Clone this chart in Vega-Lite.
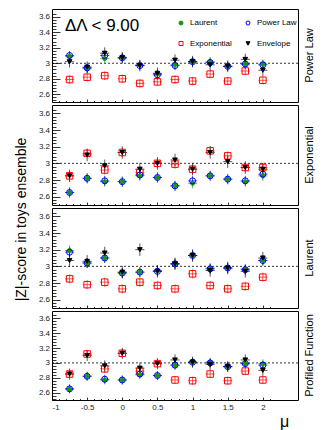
{
"$schema": "https://vega.github.io/schema/vega-lite/v6.json",
"padding": {"left": 13, "top": 8, "right": 0, "bottom": 0},
"spacing": 3,
"bounds": "flush",
"config": {
  "font": "Liberation Sans",
  "view": {"stroke": "#000", "strokeWidth": 1},
  "axis": {"grid": false, "domain": false, "labelFont": "Liberation Sans", "labelFontSize": 8, "labelColor": "#222", "tickColor": "#000", "tickWidth": 0.8, "titleFont": "Liberation Sans", "titleFontWeight": "normal", "titleColor": "#000"},
  "title": {"font": "Liberation Sans", "fontWeight": "normal", "fontSize": 11, "color": "#000"},
  "legend": {"orient": "none", "legendX": 125, "legendY": 10, "direction": "horizontal", "columns": 2, "title": null, "labelFontSize": 8, "labelFont": "Liberation Sans", "labelColor": "#000", "symbolSize": 16, "symbolStrokeWidth": 1, "labelOffset": 5, "columnPadding": 12, "rowPadding": 12.5, "padding": 0}
},
"data": {"values": [
{"panel":"Power Law","series":"Exponential","mu":-0.75,"z":2.79,"ye":0.055,"xe":0.065},
{"panel":"Power Law","series":"Exponential","mu":-0.5,"z":2.82,"ye":0.055,"xe":0.065},
{"panel":"Power Law","series":"Exponential","mu":-0.25,"z":2.84,"ye":0.055,"xe":0.065},
{"panel":"Power Law","series":"Exponential","mu":0,"z":2.80,"ye":0.055,"xe":0.065},
{"panel":"Power Law","series":"Exponential","mu":0.25,"z":2.74,"ye":0.055,"xe":0.065},
{"panel":"Power Law","series":"Exponential","mu":0.5,"z":2.76,"ye":0.055,"xe":0.065},
{"panel":"Power Law","series":"Exponential","mu":0.75,"z":2.79,"ye":0.055,"xe":0.065},
{"panel":"Power Law","series":"Exponential","mu":1,"z":2.77,"ye":0.055,"xe":0.065},
{"panel":"Power Law","series":"Exponential","mu":1.25,"z":2.86,"ye":0.055,"xe":0.065},
{"panel":"Power Law","series":"Exponential","mu":1.5,"z":2.77,"ye":0.055,"xe":0.065},
{"panel":"Power Law","series":"Exponential","mu":1.75,"z":2.90,"ye":0.055,"xe":0.065},
{"panel":"Power Law","series":"Exponential","mu":2,"z":2.78,"ye":0.055,"xe":0.065},
{"panel":"Power Law","series":"Laurent","mu":-0.75,"z":3.09,"ye":0.06,"xe":0.065},
{"panel":"Power Law","series":"Laurent","mu":-0.5,"z":2.93,"ye":0.06,"xe":0.065},
{"panel":"Power Law","series":"Laurent","mu":-0.25,"z":3.06,"ye":0.06,"xe":0.065},
{"panel":"Power Law","series":"Laurent","mu":0,"z":3.07,"ye":0.06,"xe":0.065},
{"panel":"Power Law","series":"Laurent","mu":0.25,"z":2.98,"ye":0.06,"xe":0.065},
{"panel":"Power Law","series":"Laurent","mu":0.5,"z":2.86,"ye":0.06,"xe":0.065},
{"panel":"Power Law","series":"Laurent","mu":0.75,"z":2.98,"ye":0.06,"xe":0.065},
{"panel":"Power Law","series":"Laurent","mu":1,"z":3.02,"ye":0.06,"xe":0.065},
{"panel":"Power Law","series":"Laurent","mu":1.25,"z":3.02,"ye":0.06,"xe":0.065},
{"panel":"Power Law","series":"Laurent","mu":1.5,"z":2.96,"ye":0.06,"xe":0.065},
{"panel":"Power Law","series":"Laurent","mu":1.75,"z":2.99,"ye":0.06,"xe":0.065},
{"panel":"Power Law","series":"Laurent","mu":2,"z":2.99,"ye":0.06,"xe":0.065},
{"panel":"Power Law","series":"Power Law","mu":-0.75,"z":3.10,"ye":0.06,"xe":0.065},
{"panel":"Power Law","series":"Power Law","mu":-0.5,"z":2.94,"ye":0.06,"xe":0.065},
{"panel":"Power Law","series":"Power Law","mu":-0.25,"z":3.10,"ye":0.06,"xe":0.065},
{"panel":"Power Law","series":"Power Law","mu":0,"z":3.07,"ye":0.06,"xe":0.065},
{"panel":"Power Law","series":"Power Law","mu":0.25,"z":2.97,"ye":0.06,"xe":0.065},
{"panel":"Power Law","series":"Power Law","mu":0.5,"z":2.85,"ye":0.06,"xe":0.065},
{"panel":"Power Law","series":"Power Law","mu":0.75,"z":2.97,"ye":0.06,"xe":0.065},
{"panel":"Power Law","series":"Power Law","mu":1,"z":3.02,"ye":0.06,"xe":0.065},
{"panel":"Power Law","series":"Power Law","mu":1.25,"z":3.01,"ye":0.06,"xe":0.065},
{"panel":"Power Law","series":"Power Law","mu":1.5,"z":2.96,"ye":0.06,"xe":0.065},
{"panel":"Power Law","series":"Power Law","mu":1.75,"z":2.99,"ye":0.06,"xe":0.065},
{"panel":"Power Law","series":"Power Law","mu":2,"z":2.98,"ye":0.06,"xe":0.065},
{"panel":"Power Law","series":"Envelope","mu":-0.75,"z":3.02,"ye":0.075,"xe":0.065},
{"panel":"Power Law","series":"Envelope","mu":-0.5,"z":2.95,"ye":0.075,"xe":0.065},
{"panel":"Power Law","series":"Envelope","mu":-0.25,"z":3.13,"ye":0.075,"xe":0.065},
{"panel":"Power Law","series":"Envelope","mu":0,"z":3.07,"ye":0.075,"xe":0.065},
{"panel":"Power Law","series":"Envelope","mu":0.25,"z":2.97,"ye":0.075,"xe":0.065},
{"panel":"Power Law","series":"Envelope","mu":0.5,"z":2.87,"ye":0.075,"xe":0.065},
{"panel":"Power Law","series":"Envelope","mu":0.75,"z":3.04,"ye":0.075,"xe":0.065},
{"panel":"Power Law","series":"Envelope","mu":1,"z":3.02,"ye":0.075,"xe":0.065},
{"panel":"Power Law","series":"Envelope","mu":1.25,"z":2.98,"ye":0.075,"xe":0.065},
{"panel":"Power Law","series":"Envelope","mu":1.5,"z":2.96,"ye":0.075,"xe":0.065},
{"panel":"Power Law","series":"Envelope","mu":1.75,"z":3.05,"ye":0.075,"xe":0.065},
{"panel":"Power Law","series":"Envelope","mu":2,"z":2.91,"ye":0.075,"xe":0.065},

{"panel":"Exponential","series":"Exponential","mu":-0.75,"z":2.85,"ye":0.055,"xe":0.065},
{"panel":"Exponential","series":"Exponential","mu":-0.5,"z":3.12,"ye":0.055,"xe":0.065},
{"panel":"Exponential","series":"Exponential","mu":-0.25,"z":2.92,"ye":0.055,"xe":0.065},
{"panel":"Exponential","series":"Exponential","mu":0,"z":3.13,"ye":0.055,"xe":0.065},
{"panel":"Exponential","series":"Exponential","mu":0.25,"z":2.89,"ye":0.055,"xe":0.065},
{"panel":"Exponential","series":"Exponential","mu":0.5,"z":3.00,"ye":0.055,"xe":0.065},
{"panel":"Exponential","series":"Exponential","mu":0.75,"z":2.99,"ye":0.055,"xe":0.065},
{"panel":"Exponential","series":"Exponential","mu":1,"z":2.93,"ye":0.055,"xe":0.065},
{"panel":"Exponential","series":"Exponential","mu":1.25,"z":3.15,"ye":0.055,"xe":0.065},
{"panel":"Exponential","series":"Exponential","mu":1.5,"z":3.09,"ye":0.055,"xe":0.065},
{"panel":"Exponential","series":"Exponential","mu":1.75,"z":2.95,"ye":0.055,"xe":0.065},
{"panel":"Exponential","series":"Exponential","mu":2,"z":2.95,"ye":0.055,"xe":0.065},
{"panel":"Exponential","series":"Laurent","mu":-0.75,"z":2.65,"ye":0.06,"xe":0.065},
{"panel":"Exponential","series":"Laurent","mu":-0.5,"z":2.82,"ye":0.06,"xe":0.065},
{"panel":"Exponential","series":"Laurent","mu":-0.25,"z":2.78,"ye":0.06,"xe":0.065},
{"panel":"Exponential","series":"Laurent","mu":0,"z":2.78,"ye":0.06,"xe":0.065},
{"panel":"Exponential","series":"Laurent","mu":0.25,"z":2.85,"ye":0.06,"xe":0.065},
{"panel":"Exponential","series":"Laurent","mu":0.5,"z":2.83,"ye":0.06,"xe":0.065},
{"panel":"Exponential","series":"Laurent","mu":0.75,"z":2.73,"ye":0.06,"xe":0.065},
{"panel":"Exponential","series":"Laurent","mu":1,"z":2.76,"ye":0.06,"xe":0.065},
{"panel":"Exponential","series":"Laurent","mu":1.25,"z":2.85,"ye":0.06,"xe":0.065},
{"panel":"Exponential","series":"Laurent","mu":1.5,"z":2.81,"ye":0.06,"xe":0.065},
{"panel":"Exponential","series":"Laurent","mu":1.75,"z":2.78,"ye":0.06,"xe":0.065},
{"panel":"Exponential","series":"Laurent","mu":2,"z":2.85,"ye":0.06,"xe":0.065},
{"panel":"Exponential","series":"Power Law","mu":-0.75,"z":2.65,"ye":0.06,"xe":0.065},
{"panel":"Exponential","series":"Power Law","mu":-0.5,"z":2.82,"ye":0.06,"xe":0.065},
{"panel":"Exponential","series":"Power Law","mu":-0.25,"z":2.79,"ye":0.06,"xe":0.065},
{"panel":"Exponential","series":"Power Law","mu":0,"z":2.78,"ye":0.06,"xe":0.065},
{"panel":"Exponential","series":"Power Law","mu":0.25,"z":2.86,"ye":0.06,"xe":0.065},
{"panel":"Exponential","series":"Power Law","mu":0.5,"z":2.83,"ye":0.06,"xe":0.065},
{"panel":"Exponential","series":"Power Law","mu":0.75,"z":2.73,"ye":0.06,"xe":0.065},
{"panel":"Exponential","series":"Power Law","mu":1,"z":2.79,"ye":0.06,"xe":0.065},
{"panel":"Exponential","series":"Power Law","mu":1.25,"z":2.85,"ye":0.06,"xe":0.065},
{"panel":"Exponential","series":"Power Law","mu":1.5,"z":2.81,"ye":0.06,"xe":0.065},
{"panel":"Exponential","series":"Power Law","mu":1.75,"z":2.79,"ye":0.06,"xe":0.065},
{"panel":"Exponential","series":"Power Law","mu":2,"z":2.87,"ye":0.06,"xe":0.065},
{"panel":"Exponential","series":"Envelope","mu":-0.75,"z":2.85,"ye":0.075,"xe":0.065},
{"panel":"Exponential","series":"Envelope","mu":-0.5,"z":3.10,"ye":0.075,"xe":0.065},
{"panel":"Exponential","series":"Envelope","mu":-0.25,"z":2.97,"ye":0.075,"xe":0.065},
{"panel":"Exponential","series":"Envelope","mu":0,"z":3.13,"ye":0.075,"xe":0.065},
{"panel":"Exponential","series":"Envelope","mu":0.25,"z":2.93,"ye":0.075,"xe":0.065},
{"panel":"Exponential","series":"Envelope","mu":0.5,"z":3.00,"ye":0.075,"xe":0.065},
{"panel":"Exponential","series":"Envelope","mu":0.75,"z":3.04,"ye":0.075,"xe":0.065},
{"panel":"Exponential","series":"Envelope","mu":1,"z":2.93,"ye":0.075,"xe":0.065},
{"panel":"Exponential","series":"Envelope","mu":1.25,"z":3.13,"ye":0.075,"xe":0.065},
{"panel":"Exponential","series":"Envelope","mu":1.5,"z":3.02,"ye":0.075,"xe":0.065},
{"panel":"Exponential","series":"Envelope","mu":1.75,"z":2.95,"ye":0.075,"xe":0.065},
{"panel":"Exponential","series":"Envelope","mu":2,"z":2.93,"ye":0.075,"xe":0.065},

{"panel":"Laurent","series":"Exponential","mu":-0.75,"z":2.85,"ye":0.055,"xe":0.065},
{"panel":"Laurent","series":"Exponential","mu":-0.5,"z":2.78,"ye":0.055,"xe":0.065},
{"panel":"Laurent","series":"Exponential","mu":-0.25,"z":2.81,"ye":0.055,"xe":0.065},
{"panel":"Laurent","series":"Exponential","mu":0,"z":2.73,"ye":0.055,"xe":0.065},
{"panel":"Laurent","series":"Exponential","mu":0.25,"z":2.81,"ye":0.055,"xe":0.065},
{"panel":"Laurent","series":"Exponential","mu":0.5,"z":2.77,"ye":0.055,"xe":0.065},
{"panel":"Laurent","series":"Exponential","mu":0.75,"z":2.73,"ye":0.055,"xe":0.065},
{"panel":"Laurent","series":"Exponential","mu":1,"z":2.91,"ye":0.055,"xe":0.065},
{"panel":"Laurent","series":"Exponential","mu":1.25,"z":2.77,"ye":0.055,"xe":0.065},
{"panel":"Laurent","series":"Exponential","mu":1.5,"z":2.73,"ye":0.055,"xe":0.065},
{"panel":"Laurent","series":"Exponential","mu":1.75,"z":2.76,"ye":0.055,"xe":0.065},
{"panel":"Laurent","series":"Exponential","mu":2,"z":2.87,"ye":0.055,"xe":0.065},
{"panel":"Laurent","series":"Laurent","mu":-0.75,"z":3.19,"ye":0.06,"xe":0.065},
{"panel":"Laurent","series":"Laurent","mu":-0.5,"z":3.04,"ye":0.06,"xe":0.065},
{"panel":"Laurent","series":"Laurent","mu":-0.25,"z":3.10,"ye":0.06,"xe":0.065},
{"panel":"Laurent","series":"Laurent","mu":0,"z":2.92,"ye":0.06,"xe":0.065},
{"panel":"Laurent","series":"Laurent","mu":0.25,"z":2.93,"ye":0.06,"xe":0.065},
{"panel":"Laurent","series":"Laurent","mu":0.5,"z":2.95,"ye":0.06,"xe":0.065},
{"panel":"Laurent","series":"Laurent","mu":0.75,"z":3.03,"ye":0.06,"xe":0.065},
{"panel":"Laurent","series":"Laurent","mu":1,"z":3.13,"ye":0.06,"xe":0.065},
{"panel":"Laurent","series":"Laurent","mu":1.25,"z":2.98,"ye":0.06,"xe":0.065},
{"panel":"Laurent","series":"Laurent","mu":1.5,"z":2.98,"ye":0.06,"xe":0.065},
{"panel":"Laurent","series":"Laurent","mu":1.75,"z":2.97,"ye":0.06,"xe":0.065},
{"panel":"Laurent","series":"Laurent","mu":2,"z":3.07,"ye":0.06,"xe":0.065},
{"panel":"Laurent","series":"Power Law","mu":-0.75,"z":3.17,"ye":0.06,"xe":0.065},
{"panel":"Laurent","series":"Power Law","mu":-0.5,"z":3.04,"ye":0.06,"xe":0.065},
{"panel":"Laurent","series":"Power Law","mu":-0.25,"z":3.10,"ye":0.06,"xe":0.065},
{"panel":"Laurent","series":"Power Law","mu":0,"z":2.92,"ye":0.06,"xe":0.065},
{"panel":"Laurent","series":"Power Law","mu":0.25,"z":2.93,"ye":0.06,"xe":0.065},
{"panel":"Laurent","series":"Power Law","mu":0.5,"z":2.94,"ye":0.06,"xe":0.065},
{"panel":"Laurent","series":"Power Law","mu":0.75,"z":3.03,"ye":0.06,"xe":0.065},
{"panel":"Laurent","series":"Power Law","mu":1,"z":3.13,"ye":0.06,"xe":0.065},
{"panel":"Laurent","series":"Power Law","mu":1.25,"z":2.97,"ye":0.06,"xe":0.065},
{"panel":"Laurent","series":"Power Law","mu":1.5,"z":2.98,"ye":0.06,"xe":0.065},
{"panel":"Laurent","series":"Power Law","mu":1.75,"z":2.96,"ye":0.06,"xe":0.065},
{"panel":"Laurent","series":"Power Law","mu":2,"z":3.07,"ye":0.06,"xe":0.065},
{"panel":"Laurent","series":"Envelope","mu":-0.75,"z":3.07,"ye":0.075,"xe":0.065},
{"panel":"Laurent","series":"Envelope","mu":-0.5,"z":3.06,"ye":0.075,"xe":0.065},
{"panel":"Laurent","series":"Envelope","mu":-0.25,"z":3.16,"ye":0.075,"xe":0.065},
{"panel":"Laurent","series":"Envelope","mu":0,"z":2.93,"ye":0.075,"xe":0.065},
{"panel":"Laurent","series":"Envelope","mu":0.25,"z":3.20,"ye":0.075,"xe":0.065},
{"panel":"Laurent","series":"Envelope","mu":0.5,"z":2.94,"ye":0.075,"xe":0.065},
{"panel":"Laurent","series":"Envelope","mu":0.75,"z":3.03,"ye":0.075,"xe":0.065},
{"panel":"Laurent","series":"Envelope","mu":1,"z":3.13,"ye":0.075,"xe":0.065},
{"panel":"Laurent","series":"Envelope","mu":1.25,"z":2.95,"ye":0.075,"xe":0.065},
{"panel":"Laurent","series":"Envelope","mu":1.5,"z":2.98,"ye":0.075,"xe":0.065},
{"panel":"Laurent","series":"Envelope","mu":1.75,"z":2.94,"ye":0.075,"xe":0.065},
{"panel":"Laurent","series":"Envelope","mu":2,"z":3.10,"ye":0.075,"xe":0.065},

{"panel":"Profiled Function","series":"Exponential","mu":-0.75,"z":2.85,"ye":0.055,"xe":0.065},
{"panel":"Profiled Function","series":"Exponential","mu":-0.5,"z":3.12,"ye":0.055,"xe":0.065},
{"panel":"Profiled Function","series":"Exponential","mu":-0.25,"z":2.92,"ye":0.055,"xe":0.065},
{"panel":"Profiled Function","series":"Exponential","mu":0,"z":3.13,"ye":0.055,"xe":0.065},
{"panel":"Profiled Function","series":"Exponential","mu":0.25,"z":2.89,"ye":0.055,"xe":0.065},
{"panel":"Profiled Function","series":"Exponential","mu":0.5,"z":2.99,"ye":0.055,"xe":0.065},
{"panel":"Profiled Function","series":"Exponential","mu":0.75,"z":2.77,"ye":0.055,"xe":0.065},
{"panel":"Profiled Function","series":"Exponential","mu":1,"z":2.76,"ye":0.055,"xe":0.065},
{"panel":"Profiled Function","series":"Exponential","mu":1.25,"z":2.85,"ye":0.055,"xe":0.065},
{"panel":"Profiled Function","series":"Exponential","mu":1.5,"z":2.76,"ye":0.055,"xe":0.065},
{"panel":"Profiled Function","series":"Exponential","mu":1.75,"z":2.89,"ye":0.055,"xe":0.065},
{"panel":"Profiled Function","series":"Exponential","mu":2,"z":2.77,"ye":0.055,"xe":0.065},
{"panel":"Profiled Function","series":"Laurent","mu":-0.75,"z":2.65,"ye":0.06,"xe":0.065},
{"panel":"Profiled Function","series":"Laurent","mu":-0.5,"z":2.82,"ye":0.06,"xe":0.065},
{"panel":"Profiled Function","series":"Laurent","mu":-0.25,"z":2.77,"ye":0.06,"xe":0.065},
{"panel":"Profiled Function","series":"Laurent","mu":0,"z":2.77,"ye":0.06,"xe":0.065},
{"panel":"Profiled Function","series":"Laurent","mu":0.25,"z":2.84,"ye":0.06,"xe":0.065},
{"panel":"Profiled Function","series":"Laurent","mu":0.5,"z":2.83,"ye":0.06,"xe":0.065},
{"panel":"Profiled Function","series":"Laurent","mu":0.75,"z":2.97,"ye":0.06,"xe":0.065},
{"panel":"Profiled Function","series":"Laurent","mu":1,"z":3.01,"ye":0.06,"xe":0.065},
{"panel":"Profiled Function","series":"Laurent","mu":1.25,"z":3.01,"ye":0.06,"xe":0.065},
{"panel":"Profiled Function","series":"Laurent","mu":1.5,"z":2.95,"ye":0.06,"xe":0.065},
{"panel":"Profiled Function","series":"Laurent","mu":1.75,"z":2.99,"ye":0.06,"xe":0.065},
{"panel":"Profiled Function","series":"Laurent","mu":2,"z":2.99,"ye":0.06,"xe":0.065},
{"panel":"Profiled Function","series":"Power Law","mu":-0.75,"z":2.65,"ye":0.06,"xe":0.065},
{"panel":"Profiled Function","series":"Power Law","mu":-0.5,"z":2.82,"ye":0.06,"xe":0.065},
{"panel":"Profiled Function","series":"Power Law","mu":-0.25,"z":2.78,"ye":0.06,"xe":0.065},
{"panel":"Profiled Function","series":"Power Law","mu":0,"z":2.77,"ye":0.06,"xe":0.065},
{"panel":"Profiled Function","series":"Power Law","mu":0.25,"z":2.85,"ye":0.06,"xe":0.065},
{"panel":"Profiled Function","series":"Power Law","mu":0.5,"z":2.83,"ye":0.06,"xe":0.065},
{"panel":"Profiled Function","series":"Power Law","mu":0.75,"z":2.97,"ye":0.06,"xe":0.065},
{"panel":"Profiled Function","series":"Power Law","mu":1,"z":3.01,"ye":0.06,"xe":0.065},
{"panel":"Profiled Function","series":"Power Law","mu":1.25,"z":3.00,"ye":0.06,"xe":0.065},
{"panel":"Profiled Function","series":"Power Law","mu":1.5,"z":2.95,"ye":0.06,"xe":0.065},
{"panel":"Profiled Function","series":"Power Law","mu":1.75,"z":2.99,"ye":0.06,"xe":0.065},
{"panel":"Profiled Function","series":"Power Law","mu":2,"z":2.97,"ye":0.06,"xe":0.065},
{"panel":"Profiled Function","series":"Envelope","mu":-0.75,"z":2.85,"ye":0.075,"xe":0.065},
{"panel":"Profiled Function","series":"Envelope","mu":-0.5,"z":3.10,"ye":0.075,"xe":0.065},
{"panel":"Profiled Function","series":"Envelope","mu":-0.25,"z":2.96,"ye":0.075,"xe":0.065},
{"panel":"Profiled Function","series":"Envelope","mu":0,"z":3.13,"ye":0.075,"xe":0.065},
{"panel":"Profiled Function","series":"Envelope","mu":0.25,"z":2.93,"ye":0.075,"xe":0.065},
{"panel":"Profiled Function","series":"Envelope","mu":0.5,"z":2.99,"ye":0.075,"xe":0.065},
{"panel":"Profiled Function","series":"Envelope","mu":0.75,"z":3.04,"ye":0.075,"xe":0.065},
{"panel":"Profiled Function","series":"Envelope","mu":1,"z":3.01,"ye":0.075,"xe":0.065},
{"panel":"Profiled Function","series":"Envelope","mu":1.25,"z":2.98,"ye":0.075,"xe":0.065},
{"panel":"Profiled Function","series":"Envelope","mu":1.5,"z":2.95,"ye":0.075,"xe":0.065},
{"panel":"Profiled Function","series":"Envelope","mu":1.75,"z":3.04,"ye":0.075,"xe":0.065},
{"panel":"Profiled Function","series":"Envelope","mu":2,"z":2.90,"ye":0.075,"xe":0.065}
]},
"resolve": {"legend": {"color": "independent", "fill": "independent", "shape": "independent"}},
"vconcat": [
{
 "width": 246, "height": 93,
 "title": {"text": "Power Law", "orient": "right", "angle": -90, "offset": -5, "anchor": "middle"},
 "resolve": {"axis": {"x": "independent", "y": "independent"}},
 "layer": [
  {"data": {"values": [{"v": 3}]}, "mark": {"type": "rule", "strokeDash": [2, 2], "color": "#000", "strokeWidth": 0.8},
   "encoding": {"y": {"field": "v", "type": "quantitative", "scale": {"domain": [2.522, 3.645]}, "axis": null}}},
  {"transform": [{"filter": "datum.panel === 'Power Law'"}],
   "mark": {"type": "errorbar", "ticks": false, "opacity": 0.65},
   "encoding": {
    "x": {"field": "mu", "type": "quantitative", "scale": {"domain": [-1, 2.2]}, "axis": {"orient": "bottom", "values": [-0.9,-0.8,-0.7,-0.6,-0.4,-0.3,-0.2,-0.1,0.1,0.2,0.3,0.4,0.6,0.7,0.8,0.9,1.1,1.2,1.3,1.4,1.6,1.7,1.8,1.9,2.1], "labels": false, "tickSize": -1.5, "title": null}},
    "y": {"field": "z", "type": "quantitative", "axis": {"orient": "left", "values": [2.52,2.56,2.64,2.68,2.72,2.76,2.84,2.88,2.92,2.96,3.04,3.08,3.12,3.16,3.24,3.28,3.32,3.36,3.44,3.48,3.52,3.56,3.64], "labels": false, "tickSize": -4, "title": null}},
    "yError": {"field": "ye"},
    "color": {"condition": [{"test": "datum.series === 'Laurent'", "value": "#109a10"}, {"test": "datum.series === 'Power Law'", "value": "#0000ff"}, {"test": "datum.series === 'Exponential'", "value": "#ff0000"}], "value": "#000000"}}},
  {"transform": [{"filter": "datum.panel === 'Power Law'"}],
   "mark": {"type": "errorbar", "ticks": false, "opacity": 0.65},
   "encoding": {
    "x": {"field": "mu", "type": "quantitative", "axis": null},
    "xError": {"field": "xe"},
    "y": {"field": "z", "type": "quantitative", "axis": null},
    "color": {"condition": [{"test": "datum.series === 'Laurent'", "value": "#109a10"}, {"test": "datum.series === 'Power Law'", "value": "#0000ff"}, {"test": "datum.series === 'Exponential'", "value": "#ff0000"}], "value": "#000000"}}},
  {"transform": [{"filter": "datum.panel === 'Power Law'"}],
   "mark": {"type": "point", "filled": false, "opacity": 1, "strokeWidth": 1},
   "encoding": {
    "x": {"field": "mu", "type": "quantitative", "axis": {"orient": "bottom", "values": [-1,-0.5,0,0.5,1,1.5,2], "labels": false, "tickSize": -3, "title": null}},
    "y": {"field": "z", "type": "quantitative", "axis": {"orient": "left", "values": [2.6,2.8,3,3.2,3.4,3.6], "format": "~g", "tickSize": -8, "labelPadding": 10.5, "title": null}},
    "color": {"field": "series", "type": "nominal", "scale": {"domain": ["Laurent", "Power Law", "Exponential", "Envelope"], "range": ["#109a10", "#0000ff", "#ff0000", "#000000"]}},
    "fill": {"field": "series", "type": "nominal", "scale": {"domain": ["Laurent", "Power Law", "Exponential", "Envelope"], "range": ["#109a10", "transparent", "transparent", "#000000"]}},
    "shape": {"field": "series", "type": "nominal", "scale": {"domain": ["Laurent", "Power Law", "Exponential", "Envelope"], "range": ["circle", "circle", "square", "triangle-down"]}},
    "size": {"condition": [{"test": "datum.series === 'Laurent'", "value": 16}, {"test": "datum.series === 'Power Law'", "value": 36}, {"test": "datum.series === 'Exponential'", "value": 42}], "value": 22}}},
  {"data": {"values": [{"label": "ΔΛ < 9.00"}]},
   "mark": {"type": "text", "align": "left", "baseline": "middle", "fontSize": 17, "font": "Liberation Sans", "color": "#000"},
   "encoding": {"x": {"datum": -0.815, "type": "quantitative", "axis": null}, "y": {"datum": 3.475, "type": "quantitative", "axis": null}, "text": {"field": "label"}}}
 ]
},
{
 "width": 246, "height": 100,
 "title": {"text": "Exponential", "orient": "right", "angle": -90, "offset": -5, "anchor": "middle"},
 "resolve": {"axis": {"x": "independent", "y": "independent"}},
 "layer": [
  {"data": {"values": [{"v": 3}]}, "mark": {"type": "rule", "strokeDash": [2, 2], "color": "#000", "strokeWidth": 0.8},
   "encoding": {"y": {"field": "v", "type": "quantitative", "scale": {"domain": [2.522, 3.645]}, "axis": null}}},
  {"transform": [{"filter": "datum.panel === 'Exponential'"}],
   "mark": {"type": "errorbar", "ticks": false, "opacity": 0.65},
   "encoding": {
    "x": {"field": "mu", "type": "quantitative", "scale": {"domain": [-1, 2.2]}, "axis": {"orient": "bottom", "values": [-0.9,-0.8,-0.7,-0.6,-0.4,-0.3,-0.2,-0.1,0.1,0.2,0.3,0.4,0.6,0.7,0.8,0.9,1.1,1.2,1.3,1.4,1.6,1.7,1.8,1.9,2.1], "labels": false, "tickSize": -1.5, "title": null}},
    "y": {"field": "z", "type": "quantitative", "axis": {"orient": "left", "values": [2.52,2.56,2.64,2.68,2.72,2.76,2.84,2.88,2.92,2.96,3.04,3.08,3.12,3.16,3.24,3.28,3.32,3.36,3.44,3.48,3.52,3.56,3.64], "labels": false, "tickSize": -4, "title": null}},
    "yError": {"field": "ye"},
    "color": {"condition": [{"test": "datum.series === 'Laurent'", "value": "#109a10"}, {"test": "datum.series === 'Power Law'", "value": "#0000ff"}, {"test": "datum.series === 'Exponential'", "value": "#ff0000"}], "value": "#000000"}}},
  {"transform": [{"filter": "datum.panel === 'Exponential'"}],
   "mark": {"type": "errorbar", "ticks": false, "opacity": 0.65},
   "encoding": {
    "x": {"field": "mu", "type": "quantitative", "axis": null},
    "xError": {"field": "xe"},
    "y": {"field": "z", "type": "quantitative", "axis": null},
    "color": {"condition": [{"test": "datum.series === 'Laurent'", "value": "#109a10"}, {"test": "datum.series === 'Power Law'", "value": "#0000ff"}, {"test": "datum.series === 'Exponential'", "value": "#ff0000"}], "value": "#000000"}}},
  {"transform": [{"filter": "datum.panel === 'Exponential'"}],
   "mark": {"type": "point", "filled": false, "opacity": 1, "strokeWidth": 1},
   "encoding": {
    "x": {"field": "mu", "type": "quantitative", "axis": {"orient": "bottom", "values": [-1,-0.5,0,0.5,1,1.5,2], "labels": false, "tickSize": -3, "title": null}},
    "y": {"field": "z", "type": "quantitative", "axis": {"orient": "left", "values": [2.6,2.8,3,3.2,3.4,3.6], "format": "~g", "tickSize": -8, "labelPadding": 10.5, "title": null}},
    "color": {"field": "series", "type": "nominal", "legend": null},
    "fill": {"field": "series", "type": "nominal", "scale": {"domain": ["Laurent", "Power Law", "Exponential", "Envelope"], "range": ["#109a10", "transparent", "transparent", "#000000"]}, "legend": null},
    "shape": {"field": "series", "type": "nominal", "scale": {"domain": ["Laurent", "Power Law", "Exponential", "Envelope"], "range": ["circle", "circle", "square", "triangle-down"]}, "legend": null},
    "size": {"condition": [{"test": "datum.series === 'Laurent'", "value": 16}, {"test": "datum.series === 'Power Law'", "value": 36}, {"test": "datum.series === 'Exponential'", "value": 42}], "value": 22}}}
 ]
},
{
 "width": 246, "height": 100,
 "title": {"text": "Laurent", "orient": "right", "angle": -90, "offset": -5, "anchor": "middle"},
 "resolve": {"axis": {"x": "independent", "y": "independent"}},
 "layer": [
  {"data": {"values": [{"v": 3}]}, "mark": {"type": "rule", "strokeDash": [2, 2], "color": "#000", "strokeWidth": 0.8},
   "encoding": {"y": {"field": "v", "type": "quantitative", "scale": {"domain": [2.522, 3.645]}, "axis": null}}},
  {"transform": [{"filter": "datum.panel === 'Laurent'"}],
   "mark": {"type": "errorbar", "ticks": false, "opacity": 0.65},
   "encoding": {
    "x": {"field": "mu", "type": "quantitative", "scale": {"domain": [-1, 2.2]}, "axis": {"orient": "bottom", "values": [-0.9,-0.8,-0.7,-0.6,-0.4,-0.3,-0.2,-0.1,0.1,0.2,0.3,0.4,0.6,0.7,0.8,0.9,1.1,1.2,1.3,1.4,1.6,1.7,1.8,1.9,2.1], "labels": false, "tickSize": -1.5, "title": null}},
    "y": {"field": "z", "type": "quantitative", "axis": {"orient": "left", "values": [2.52,2.56,2.64,2.68,2.72,2.76,2.84,2.88,2.92,2.96,3.04,3.08,3.12,3.16,3.24,3.28,3.32,3.36,3.44,3.48,3.52,3.56,3.64], "labels": false, "tickSize": -4, "title": null}},
    "yError": {"field": "ye"},
    "color": {"condition": [{"test": "datum.series === 'Laurent'", "value": "#109a10"}, {"test": "datum.series === 'Power Law'", "value": "#0000ff"}, {"test": "datum.series === 'Exponential'", "value": "#ff0000"}], "value": "#000000"}}},
  {"transform": [{"filter": "datum.panel === 'Laurent'"}],
   "mark": {"type": "errorbar", "ticks": false, "opacity": 0.65},
   "encoding": {
    "x": {"field": "mu", "type": "quantitative", "axis": null},
    "xError": {"field": "xe"},
    "y": {"field": "z", "type": "quantitative", "axis": null},
    "color": {"condition": [{"test": "datum.series === 'Laurent'", "value": "#109a10"}, {"test": "datum.series === 'Power Law'", "value": "#0000ff"}, {"test": "datum.series === 'Exponential'", "value": "#ff0000"}], "value": "#000000"}}},
  {"transform": [{"filter": "datum.panel === 'Laurent'"}],
   "mark": {"type": "point", "filled": false, "opacity": 1, "strokeWidth": 1},
   "encoding": {
    "x": {"field": "mu", "type": "quantitative", "axis": {"orient": "bottom", "values": [-1,-0.5,0,0.5,1,1.5,2], "labels": false, "tickSize": -3, "title": null}},
    "y": {"field": "z", "type": "quantitative", "axis": {"orient": "left", "values": [2.6,2.8,3,3.2,3.4,3.6], "format": "~g", "tickSize": -8, "labelPadding": 10.5, "title": "|Z|-score in toys ensemble", "titleFontSize": 14, "titleX": -24, "titleY": 11, "titleAnchor": null}},
    "color": {"field": "series", "type": "nominal", "legend": null},
    "fill": {"field": "series", "type": "nominal", "scale": {"domain": ["Laurent", "Power Law", "Exponential", "Envelope"], "range": ["#109a10", "transparent", "transparent", "#000000"]}, "legend": null},
    "shape": {"field": "series", "type": "nominal", "scale": {"domain": ["Laurent", "Power Law", "Exponential", "Envelope"], "range": ["circle", "circle", "square", "triangle-down"]}, "legend": null},
    "size": {"condition": [{"test": "datum.series === 'Laurent'", "value": 16}, {"test": "datum.series === 'Power Law'", "value": 36}, {"test": "datum.series === 'Exponential'", "value": 42}], "value": 22}}}
 ]
},
{
 "width": 246, "height": 89,
 "title": {"text": "Profiled Function", "orient": "right", "angle": -90, "offset": -5, "anchor": "middle"},
 "resolve": {"axis": {"x": "independent", "y": "independent"}},
 "layer": [
  {"data": {"values": [{"v": 3}]}, "mark": {"type": "rule", "strokeDash": [2, 2], "color": "#000", "strokeWidth": 0.8},
   "encoding": {"y": {"field": "v", "type": "quantitative", "scale": {"domain": [2.522, 3.645]}, "axis": null}}},
  {"transform": [{"filter": "datum.panel === 'Profiled Function'"}],
   "mark": {"type": "errorbar", "ticks": false, "opacity": 0.65},
   "encoding": {
    "x": {"field": "mu", "type": "quantitative", "scale": {"domain": [-1, 2.2]}, "axis": {"orient": "bottom", "values": [-0.9,-0.8,-0.7,-0.6,-0.4,-0.3,-0.2,-0.1,0.1,0.2,0.3,0.4,0.6,0.7,0.8,0.9,1.1,1.2,1.3,1.4,1.6,1.7,1.8,1.9,2.1], "labels": false, "tickSize": -1.5, "title": null}},
    "y": {"field": "z", "type": "quantitative", "axis": {"orient": "left", "values": [2.52,2.56,2.64,2.68,2.72,2.76,2.84,2.88,2.92,2.96,3.04,3.08,3.12,3.16,3.24,3.28,3.32,3.36,3.44,3.48,3.52,3.56,3.64], "labels": false, "tickSize": -4, "title": null}},
    "yError": {"field": "ye"},
    "color": {"condition": [{"test": "datum.series === 'Laurent'", "value": "#109a10"}, {"test": "datum.series === 'Power Law'", "value": "#0000ff"}, {"test": "datum.series === 'Exponential'", "value": "#ff0000"}], "value": "#000000"}}},
  {"transform": [{"filter": "datum.panel === 'Profiled Function'"}],
   "mark": {"type": "errorbar", "ticks": false, "opacity": 0.65},
   "encoding": {
    "x": {"field": "mu", "type": "quantitative", "axis": null},
    "xError": {"field": "xe"},
    "y": {"field": "z", "type": "quantitative", "axis": null},
    "color": {"condition": [{"test": "datum.series === 'Laurent'", "value": "#109a10"}, {"test": "datum.series === 'Power Law'", "value": "#0000ff"}, {"test": "datum.series === 'Exponential'", "value": "#ff0000"}], "value": "#000000"}}},
  {"transform": [{"filter": "datum.panel === 'Profiled Function'"}],
   "mark": {"type": "point", "filled": false, "opacity": 1, "strokeWidth": 1},
   "encoding": {
    "x": {"field": "mu", "type": "quantitative", "axis": {"orient": "bottom", "values": [-1,-0.5,0,0.5,1,1.5,2], "labelExpr": "'' + datum.value", "tickSize": -3, "labelPadding": 6.5, "title": "μ", "titleFontSize": 16, "titleX": 232, "titleY": 26, "titleAlign": "center", "titleBaseline": "alphabetic", "titleAnchor": null}},
    "y": {"field": "z", "type": "quantitative", "axis": {"orient": "left", "values": [2.6,2.8,3,3.2,3.4,3.6], "format": "~g", "tickSize": -8, "labelPadding": 10.5, "title": null}},
    "color": {"field": "series", "type": "nominal", "legend": null},
    "fill": {"field": "series", "type": "nominal", "scale": {"domain": ["Laurent", "Power Law", "Exponential", "Envelope"], "range": ["#109a10", "transparent", "transparent", "#000000"]}, "legend": null},
    "shape": {"field": "series", "type": "nominal", "scale": {"domain": ["Laurent", "Power Law", "Exponential", "Envelope"], "range": ["circle", "circle", "square", "triangle-down"]}, "legend": null},
    "size": {"condition": [{"test": "datum.series === 'Laurent'", "value": 16}, {"test": "datum.series === 'Power Law'", "value": 36}, {"test": "datum.series === 'Exponential'", "value": 42}], "value": 22}}}
 ]
}
]
}
